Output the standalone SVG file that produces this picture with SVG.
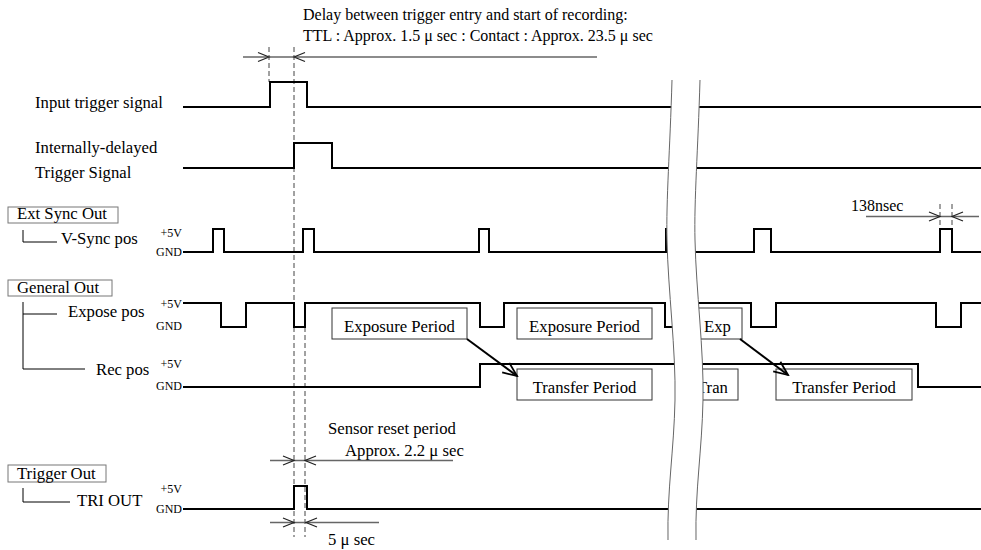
<svg xmlns="http://www.w3.org/2000/svg" width="981" height="550" viewBox="0 0 981 550">
<style>
text{font-family:"Liberation Serif","Times New Roman",serif;font-size:16.7px;fill:#000}
.top{font-size:16px}
.sm{font-size:12px}
.wave{fill:none;stroke:#000;stroke-width:2;stroke-linejoin:miter}
.dash{fill:none;stroke:#444;stroke-width:1;stroke-dasharray:5,3}
.dim{fill:none;stroke:#666;stroke-width:1.4}
.ah{fill:none;stroke:#222;stroke-width:1.2}
.lbox{fill:#fff;stroke:#777;stroke-width:1}
.pbox{fill:#fff;stroke:#333;stroke-width:1}
.brk{fill:none;stroke:#666;stroke-width:1}
.thin{fill:none;stroke:#000;stroke-width:1}
.arr{fill:none;stroke:#000;stroke-width:2}
</style>
<defs>
<marker id="open" markerWidth="18" markerHeight="14" refX="16" refY="7" orient="auto" markerUnits="userSpaceOnUse">
<path d="M2,1 L16,7 L2,13" fill="none" stroke="#000" stroke-width="1.8"/>
</marker>
</defs>

<g id="delay-note">
<text class="top" x="303" y="20">Delay between trigger entry and start of recording:</text>
<text class="top" x="303" y="41">TTL : Approx. 1.5 μ sec : Contact : Approx. 23.5 μ sec</text>
<line class="dim" x1="243" y1="57" x2="597" y2="57"/>
<path class="ah" d="M258,52.5 L269,57 L258,61.5"/>
<path class="ah" d="M305,52.5 L294,57 L305,61.5"/>
</g>

<g id="dashed-guides">
<line class="dash" x1="269" y1="47" x2="269" y2="82"/>
<line class="dash" x1="294" y1="47" x2="294" y2="537"/>
<line class="dash" x1="305" y1="327" x2="305" y2="537"/>
<line class="dash" x1="940" y1="204" x2="940" y2="229"/>
<line class="dash" x1="952" y1="204" x2="952" y2="229"/>
</g>

<g id="input-trigger">
<text x="35" y="108">Input trigger signal</text>
<polyline class="wave" points="183,107 270,107 270,82 307,82 307,107 981,107"/>
</g>

<g id="internal-trigger">
<text x="35" y="153">Internally-delayed</text>
<text x="35" y="178">Trigger Signal</text>
<polyline class="wave" points="183,168 294,168 294,143 332,143 332,168 981,168"/>
</g>

<g id="ext-sync-out">
<rect class="lbox" x="8" y="207" width="110" height="16"/>
<text x="17" y="219">Ext Sync Out</text>
<polyline class="thin" points="23,230 23,242 57,242"/>
<text x="61" y="244">V-Sync pos</text>
<text class="sm" x="182" y="237" text-anchor="end">+5V</text>
<text class="sm" x="182" y="256" text-anchor="end">GND</text>
<polyline class="wave" points="183,252 213,252 213,229 224,229 224,252 303,252 303,229 314,229 314,252 479,252 479,229 489,229 489,252 666,252 666,229 684,229 684,252 754,252 754,229 771,229 771,252 940,252 940,229 952,229 952,252 981,252"/>
<text class="top" x="851" y="211">138nsec</text>
<line class="dim" x1="866" y1="216.5" x2="979" y2="216.5"/>
<path class="ah" d="M929,212 L940,216.5 L929,221"/>
<path class="ah" d="M963,212 L952,216.5 L963,221"/>
</g>

<g id="general-out">
<rect class="lbox" x="8" y="280" width="104" height="16"/>
<text x="17" y="293">General Out</text>
<polyline class="thin" points="23,302 23,369 85,369"/>
<line class="thin" x1="23" y1="314" x2="57" y2="314"/>
<text x="68" y="317">Expose pos</text>
<text x="96" y="375">Rec pos</text>
<text class="sm" x="182" y="308" text-anchor="end">+5V</text>
<text class="sm" x="182" y="330" text-anchor="end">GND</text>
<text class="sm" x="182" y="368" text-anchor="end">+5V</text>
<text class="sm" x="182" y="390" text-anchor="end">GND</text>
<polyline class="wave" points="183,303 221,303 221,327 246,327 246,303 294,303 294,327 305,327 305,303 480,303 480,327 504,327 504,303 665,303 665,327 686,327 686,303 751,303 751,327 776,327 776,303 936,303 936,327 961,327 961,303 981,303"/>
<polyline class="wave" points="183,387 480,387 480,364 918,364 918,387 981,387"/>
</g>

<g id="exposure-1">
<rect class="pbox" x="332" y="308" width="135" height="31"/>
<text x="399.5" y="332" text-anchor="middle">Exposure Period</text>
</g>
<g id="exposure-2">
<rect class="pbox" x="517" y="308" width="135" height="31"/>
<text x="584.5" y="332" text-anchor="middle">Exposure Period</text>
</g>
<g id="exposure-3">
<rect class="pbox" x="688" y="308" width="54" height="31"/>
<text x="704" y="332">Exp</text>
</g>
<g id="transfer-1">
<rect class="pbox" x="517" y="369" width="135" height="31"/>
<text x="584.5" y="393" text-anchor="middle">Transfer Period</text>
</g>
<g id="transfer-2">
<rect class="pbox" x="688" y="369" width="50" height="31"/>
<text x="697" y="393">Tran</text>
</g>
<g id="transfer-3">
<rect class="pbox" x="776" y="369" width="136" height="31"/>
<text x="844" y="393" text-anchor="middle">Transfer Period</text>
</g>

<g id="trigger-out">
<rect class="lbox" x="8" y="465" width="98" height="17"/>
<text x="17" y="479">Trigger Out</text>
<polyline class="thin" points="23,488 23,502 70,502"/>
<text x="77" y="506">TRI OUT</text>
<text class="sm" x="182" y="493" text-anchor="end">+5V</text>
<text class="sm" x="182" y="513" text-anchor="end">GND</text>
<polyline class="wave" points="183,509 294,509 294,486 307,486 307,509 981,509"/>
<text x="328" y="434">Sensor reset period</text>
<text x="345" y="456">Approx. 2.2 μ sec</text>
<line class="dim" x1="270" y1="460.5" x2="453" y2="460.5"/>
<path class="ah" d="M283,456 L294,460.5 L283,465"/>
<path class="ah" d="M316,456 L305,460.5 L316,465"/>
<line class="dim" x1="270" y1="522.5" x2="379" y2="522.5"/>
<path class="ah" d="M283,518 L294,522.5 L283,527"/>
<path class="ah" d="M317,518 L306,522.5 L317,527"/>
<text x="328" y="545">5 μ sec</text>
</g>

<g id="time-break">
<path d="M672,80 C670,150 666,200 667,240 C668,290 676,350 675,400 C674,450 667,490 668,540 L696,540 C695,490 702,450 703,400 C704,350 696,290 695,240 C694,200 698,150 700,80 Z" fill="#fff" stroke="none"/>
<path class="brk" d="M672,80 C670,150 666,200 667,240 C668,290 676,350 675,400 C674,450 667,490 668,540"/>
<path class="brk" d="M700,80 C698,150 694,200 695,240 C696,290 704,350 703,400 C702,450 695,490 696,540"/>
</g>

<g id="connectors">
<line class="arr" x1="467" y1="339" x2="517" y2="376" marker-end="url(#open)"/>
<line class="arr" x1="740" y1="339" x2="788" y2="375" marker-end="url(#open)"/>
</g>
</svg>
